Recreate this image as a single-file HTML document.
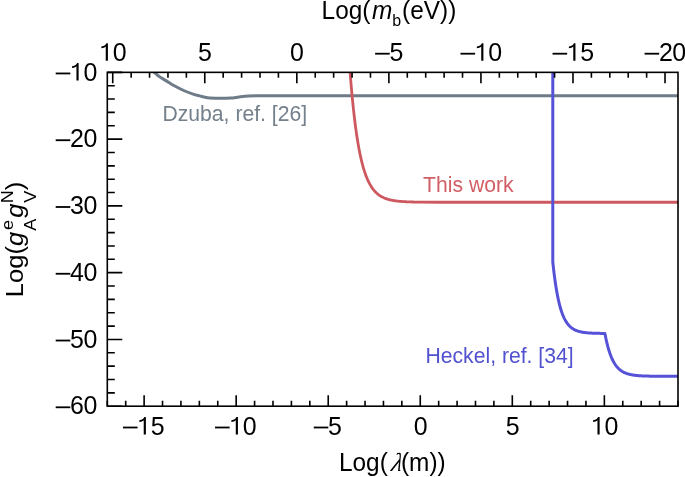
<!DOCTYPE html>
<html><head><meta charset="utf-8"><style>
html,body{margin:0;padding:0;background:#fff;}
body{width:685px;height:477px;overflow:hidden;}
svg{display:block;font-family:"Liberation Sans", sans-serif;will-change:transform;}
</style></head><body>
<svg width="685" height="477" viewBox="0 0 685 477">
<rect width="685" height="477" fill="#fff"/>
<defs><clipPath id="c"><rect x="107.30" y="72.35" width="570.70" height="333.85"/></clipPath><path id="one" d="M525 0L710 0L710 1409L580 1409C540 1290 420 1180 150 1150L150 1010C300 1015 440 1060 525 1140Z"/></defs>
<g clip-path="url(#c)" fill="none" stroke-width="3.00" stroke-linejoin="round">
<path d="M148.00,68.50 C149.02,69.12 152.20,70.85 154.10,72.20 C156.00,73.55 157.35,75.15 159.40,76.60 C161.45,78.05 163.92,79.37 166.40,80.90 C168.88,82.43 171.23,84.12 174.30,85.80 C177.37,87.48 181.67,89.61 184.80,91.00 C187.93,92.39 190.62,93.33 193.10,94.15 C195.58,94.97 197.28,95.31 199.70,95.90 C202.12,96.49 204.32,97.32 207.60,97.70 C210.88,98.08 215.58,98.15 219.40,98.20 C223.22,98.25 227.22,98.20 230.50,98.00 C233.78,97.80 236.13,97.32 239.10,97.00 C242.07,96.68 245.45,96.29 248.30,96.10 C251.15,95.91 252.58,95.89 256.20,95.85 C259.82,95.81 267.70,95.85 270.00,95.85 L682,95.85" stroke="#6e7b88"/>
<path d="M349.80,68.29 L350.30,74.82 L350.80,81.04 L351.30,86.95 L351.80,92.57 L352.30,97.92 L352.80,103.01 L353.30,107.85 L353.80,112.45 L354.30,116.83 L354.80,121.00 L355.30,124.96 L355.80,128.73 L356.30,132.32 L356.80,135.73 L357.30,138.97 L357.80,142.06 L358.30,144.99 L358.80,147.79 L359.30,150.44 L359.80,152.97 L360.30,155.37 L360.80,157.66 L361.30,159.83 L361.80,161.90 L362.30,163.87 L362.80,165.74 L363.30,167.52 L363.80,169.22 L364.30,170.83 L364.80,172.36 L365.30,173.82 L365.80,175.20 L366.30,176.52 L366.80,177.78 L367.30,178.97 L367.80,180.11 L368.30,181.19 L368.80,182.21 L369.30,183.19 L369.80,184.12 L370.30,185.00 L370.80,185.85 L371.30,186.65 L371.80,187.41 L372.30,188.13 L372.80,188.82 L373.30,189.47 L373.80,190.10 L374.30,190.69 L374.80,191.25 L375.30,191.79 L375.80,192.30 L376.30,192.79 L376.80,193.25 L377.30,193.69 L377.80,194.10 L378.30,194.50 L378.80,194.88 L379.30,195.24 L379.80,195.58 L380.30,195.91 L380.80,196.22 L381.30,196.51 L381.80,196.79 L382.30,197.06 L382.80,197.31 L383.30,197.55 L383.80,197.78 L384.30,198.00 L384.80,198.20 L385.30,198.40 L385.80,198.59 L386.30,198.77 L386.80,198.94 L387.30,199.10 L387.80,199.25 L388.30,199.40 L388.80,199.54 L389.30,199.67 L389.80,199.80 L390.30,199.92 L390.80,200.03 L391.30,200.14 L391.80,200.24 L392.30,200.34 L392.80,200.43 L393.30,200.52 L393.80,200.61 L394.30,200.69 L394.80,200.76 L395.30,200.83 L395.80,200.90 L396.30,200.97 L396.80,201.03 L397.30,201.09 L397.80,201.15 L398.30,201.20 L398.80,201.25 L399.30,201.30 L399.80,201.35 L400.30,201.39 L400.80,201.43 L401.30,201.47 L401.80,201.51 L402.30,201.55 L402.80,201.58 L403.30,201.61 L403.80,201.64 L404.30,201.67 L404.80,201.70 L405.30,201.73 L405.80,201.75 L406.30,201.78 L406.80,201.80 L407.30,201.82 L407.80,201.84 L408.30,201.86 L408.80,201.88 L409.30,201.90 L409.80,201.92 L410.30,201.93 L410.80,201.95 L411.30,201.96 L411.80,201.98 L412.30,201.99 L412.80,202.00 L413.30,202.02 L413.80,202.03 L414.30,202.04 L414.80,202.05 L415.30,202.06 L415.80,202.07 L416.30,202.08 L416.80,202.09 L417.30,202.09 L417.80,202.10 L418.30,202.11 L418.80,202.11 L419.30,202.12 L419.80,202.13 L420.30,202.13 L440.30,202.23 L460.30,202.25 L480.30,202.25 L500.30,202.25 L520.30,202.25 L540.30,202.25 L560.30,202.25 L580.30,202.25 L600.30,202.25 L620.30,202.25 L640.30,202.25 L660.30,202.25 L680.30,202.25" stroke="#cd5860" stroke-width="2.8"/>
<path d="M552.80,66.00 L552.80,262.00 L553.30,266.67 L553.80,271.03 L554.30,275.11 L554.80,278.92 L555.30,282.48 L555.80,285.81 L556.30,288.92 L556.80,291.83 L557.30,294.55 L557.80,297.10 L558.30,299.47 L558.80,301.69 L559.30,303.77 L559.80,305.71 L560.30,307.52 L560.80,309.22 L561.30,310.80 L561.80,312.29 L562.30,313.67 L562.80,314.96 L563.30,316.17 L563.80,317.31 L564.30,318.36 L564.80,319.35 L565.30,320.27 L565.80,321.14 L566.30,321.94 L566.80,322.70 L567.30,323.40 L567.80,324.06 L568.30,324.68 L568.80,325.25 L569.30,325.79 L569.80,326.30 L570.30,326.77 L570.80,327.21 L571.30,327.62 L571.80,328.00 L572.30,328.36 L572.80,328.69 L573.30,329.01 L573.80,329.30 L574.30,329.58 L574.80,329.83 L575.30,330.07 L575.80,330.30 L576.30,330.50 L576.80,330.70 L577.30,330.88 L577.80,331.05 L578.30,331.21 L578.80,331.36 L579.30,331.50 L579.80,331.63 L580.30,331.75 L580.80,331.87 L581.30,331.97 L581.80,332.07 L582.30,332.17 L582.80,332.25 L583.30,332.34 L583.80,332.41 L584.30,332.48 L584.80,332.55 L585.30,332.61 L585.80,332.67 L586.30,332.72 L586.80,332.77 L587.30,332.82 L587.80,332.87 L588.30,332.91 L588.80,332.95 L589.30,332.98 L589.80,333.02 L590.30,333.05 L590.80,333.08 L591.30,333.10 L591.80,333.13 L592.30,333.15 L592.80,333.18 L593.30,333.20 L593.80,333.22 L594.30,333.24 L594.80,333.25 L595.30,333.27 L595.80,333.28 L596.30,333.30 L596.80,333.31 L597.30,333.32 L597.80,333.34 L598.30,333.35 L598.80,333.36 L599.30,333.37 L599.80,333.37 L600.30,333.38 L600.80,333.39 L601.30,333.40 L601.80,333.40 L602.30,333.41 L602.80,333.42 L603.30,333.42 L603.80,333.43 L604.30,333.43 L604.80,333.44 L604.90,333.44 L605.40,336.03 L605.90,338.47 L606.40,340.77 L606.90,342.92 L607.40,344.94 L607.90,346.84 L608.40,348.63 L608.90,350.30 L609.40,351.88 L609.90,353.36 L610.40,354.75 L610.90,356.05 L611.40,357.28 L611.90,358.43 L612.40,359.51 L612.90,360.53 L613.40,361.49 L613.90,362.38 L614.40,363.23 L614.90,364.02 L615.40,364.76 L615.90,365.46 L616.40,366.12 L616.90,366.74 L617.40,367.32 L617.90,367.86 L618.40,368.37 L618.90,368.85 L619.40,369.30 L619.90,369.73 L620.40,370.12 L620.90,370.50 L621.40,370.85 L621.90,371.18 L622.40,371.49 L622.90,371.78 L623.40,372.06 L623.90,372.31 L624.40,372.55 L624.90,372.78 L625.40,372.99 L625.90,373.20 L626.40,373.38 L626.90,373.56 L627.40,373.73 L627.90,373.88 L628.40,374.03 L628.90,374.17 L629.40,374.30 L629.90,374.42 L630.40,374.53 L630.90,374.64 L631.40,374.74 L631.90,374.83 L632.40,374.92 L632.90,375.01 L633.40,375.08 L633.90,375.16 L634.40,375.23 L634.90,375.29 L635.40,375.35 L635.90,375.41 L636.40,375.46 L636.90,375.51 L637.40,375.56 L637.90,375.61 L638.40,375.65 L638.90,375.69 L639.40,375.73 L639.90,375.76 L640.40,375.79 L640.90,375.82 L641.40,375.85 L641.90,375.88 L642.40,375.91 L642.90,375.93 L643.40,375.95 L643.90,375.97 L644.40,375.99 L644.90,376.01 L645.40,376.03 L645.90,376.05 L646.40,376.06 L646.90,376.08 L647.40,376.09 L647.90,376.10 L648.40,376.11 L648.90,376.12 L649.40,376.14 L649.90,376.15 L650.40,376.15 L650.90,376.16 L651.40,376.17 L651.90,376.18 L652.40,376.19 L652.90,376.19 L653.40,376.20 L653.90,376.21 L654.40,376.21 L654.90,376.22 L655.40,376.22 L655.90,376.23 L656.40,376.23 L656.90,376.24 L657.40,376.24 L657.90,376.24 L658.40,376.25 L658.90,376.25 L659.40,376.25 L659.90,376.26 L660.40,376.26 L682.40,376.30" stroke="#5552d8"/>
</g>
<rect x="107.30" y="72.35" width="570.70" height="333.85" fill="none" stroke="#000" stroke-width="1.60"/>
<path d="M107.30,406.20v-5.50 M125.71,406.20v-5.50 M144.12,406.20v-11.00 M162.53,406.20v-5.50 M180.94,406.20v-5.50 M199.35,406.20v-5.50 M217.76,406.20v-5.50 M236.17,406.20v-11.00 M254.58,406.20v-5.50 M272.99,406.20v-5.50 M291.40,406.20v-5.50 M309.81,406.20v-5.50 M328.22,406.20v-11.00 M346.63,406.20v-5.50 M365.04,406.20v-5.50 M383.45,406.20v-5.50 M401.85,406.20v-5.50 M420.26,406.20v-11.00 M438.67,406.20v-5.50 M457.08,406.20v-5.50 M475.49,406.20v-5.50 M493.90,406.20v-5.50 M512.31,406.20v-11.00 M530.72,406.20v-5.50 M549.13,406.20v-5.50 M567.54,406.20v-5.50 M585.95,406.20v-5.50 M604.36,406.20v-11.00 M622.77,406.20v-5.50 M641.18,406.20v-5.50 M659.59,406.20v-5.50 M678.00,406.20v-5.50 M112.73,72.35v11.00 M131.14,72.35v5.50 M149.55,72.35v5.50 M167.96,72.35v5.50 M186.37,72.35v5.50 M204.78,72.35v11.00 M223.19,72.35v5.50 M241.60,72.35v5.50 M260.01,72.35v5.50 M278.42,72.35v5.50 M296.83,72.35v11.00 M315.24,72.35v5.50 M333.65,72.35v5.50 M352.06,72.35v5.50 M370.47,72.35v5.50 M388.88,72.35v11.00 M407.29,72.35v5.50 M425.70,72.35v5.50 M444.11,72.35v5.50 M462.52,72.35v5.50 M480.93,72.35v11.00 M499.34,72.35v5.50 M517.75,72.35v5.50 M536.16,72.35v5.50 M554.57,72.35v5.50 M572.98,72.35v11.00 M591.39,72.35v5.50 M609.80,72.35v5.50 M628.21,72.35v5.50 M646.62,72.35v5.50 M665.02,72.35v11.00 M107.30,72.35h15.00 M107.30,85.70h7.50 M107.30,99.06h7.50 M107.30,112.41h7.50 M107.30,125.77h7.50 M107.30,139.12h15.00 M107.30,152.47h7.50 M107.30,165.83h7.50 M107.30,179.18h7.50 M107.30,192.54h7.50 M107.30,205.89h15.00 M107.30,219.24h7.50 M107.30,232.60h7.50 M107.30,245.95h7.50 M107.30,259.31h7.50 M107.30,272.66h15.00 M107.30,286.01h7.50 M107.30,299.37h7.50 M107.30,312.72h7.50 M107.30,326.08h7.50 M107.30,339.43h15.00 M107.30,352.78h7.50 M107.30,366.14h7.50 M107.30,379.49h7.50 M107.30,392.85h7.50 M107.30,406.20h15.00" stroke="#000" stroke-width="1.60" fill="none"/>
<g font-size="24" fill="#000"><rect x="122.97" y="426.60" width="14.60" height="1.80"/><use href="#one" transform="translate(137.57,434.60) scale(0.01172,-0.01248)"/><text transform="translate(157.59,434.60) scale(1.040,1.065)" x="0.00" text-anchor="middle">5</text><rect x="215.02" y="426.60" width="14.60" height="1.80"/><use href="#one" transform="translate(229.62,434.60) scale(0.01172,-0.01248)"/><text transform="translate(249.64,434.60) scale(1.040,1.065)" x="0.00" text-anchor="middle">0</text><rect x="313.74" y="426.60" width="14.60" height="1.80"/><text transform="translate(335.02,434.60) scale(1.040,1.065)" x="0.00" text-anchor="middle">5</text><text transform="translate(420.56,434.60) scale(1.040,1.065)" x="0.00" text-anchor="middle">0</text><text transform="translate(512.61,434.60) scale(1.040,1.065)" x="0.00" text-anchor="middle">5</text><use href="#one" transform="translate(591.31,434.60) scale(0.01172,-0.01248)"/><text transform="translate(611.34,434.60) scale(1.040,1.065)" x="0.00" text-anchor="middle">0</text><use href="#one" transform="translate(99.59,60.80) scale(0.01172,-0.01248)"/><text transform="translate(119.61,60.80) scale(1.040,1.065)" x="0.00" text-anchor="middle">0</text><text transform="translate(204.98,60.80) scale(1.040,1.065)" x="0.00" text-anchor="middle">5</text><text transform="translate(297.03,60.80) scale(1.040,1.065)" x="0.00" text-anchor="middle">0</text><rect x="375.11" y="52.80" width="14.60" height="1.80"/><text transform="translate(396.38,60.80) scale(1.040,1.065)" x="0.00" text-anchor="middle">5</text><rect x="460.48" y="52.80" width="14.60" height="1.80"/><use href="#one" transform="translate(475.08,60.80) scale(0.01172,-0.01248)"/><text transform="translate(495.10,60.80) scale(1.040,1.065)" x="0.00" text-anchor="middle">0</text><rect x="552.53" y="52.80" width="14.60" height="1.80"/><use href="#one" transform="translate(567.13,60.80) scale(0.01172,-0.01248)"/><text transform="translate(587.15,60.80) scale(1.040,1.065)" x="0.00" text-anchor="middle">5</text><rect x="644.58" y="52.80" width="14.60" height="1.80"/><text transform="translate(665.85,60.80) scale(1.040,1.065)" x="0.00" text-anchor="middle">2</text><text transform="translate(679.20,60.80) scale(1.040,1.065)" x="0.00" text-anchor="middle">0</text><rect x="55.70" y="72.55" width="14.60" height="1.80"/><use href="#one" transform="translate(70.30,80.55) scale(0.01172,-0.01248)"/><text transform="translate(90.33,80.55) scale(1.040,1.065)" x="0.00" text-anchor="middle">0</text><rect x="55.70" y="139.32" width="14.60" height="1.80"/><text transform="translate(76.98,147.32) scale(1.040,1.065)" x="0.00" text-anchor="middle">2</text><text transform="translate(90.33,147.32) scale(1.040,1.065)" x="0.00" text-anchor="middle">0</text><rect x="55.70" y="206.09" width="14.60" height="1.80"/><text transform="translate(76.98,214.09) scale(1.040,1.065)" x="0.00" text-anchor="middle">3</text><text transform="translate(90.33,214.09) scale(1.040,1.065)" x="0.00" text-anchor="middle">0</text><rect x="55.70" y="272.86" width="14.60" height="1.80"/><text transform="translate(76.98,280.86) scale(1.040,1.065)" x="0.00" text-anchor="middle">4</text><text transform="translate(90.33,280.86) scale(1.040,1.065)" x="0.00" text-anchor="middle">0</text><rect x="55.70" y="339.63" width="14.60" height="1.80"/><text transform="translate(76.98,347.63) scale(1.040,1.065)" x="0.00" text-anchor="middle">5</text><text transform="translate(90.33,347.63) scale(1.040,1.065)" x="0.00" text-anchor="middle">0</text><rect x="55.70" y="406.40" width="14.60" height="1.80"/><text transform="translate(76.98,414.40) scale(1.040,1.065)" x="0.00" text-anchor="middle">6</text><text transform="translate(90.33,414.40) scale(1.040,1.065)" x="0.00" text-anchor="middle">0</text></g>
<text transform="translate(321.60,18.80) scale(1,1.065)" font-size="24.4" fill="#000">Log(<tspan font-style="italic" dx="1.5">m</tspan><tspan font-size="16" dy="6.8" dx="0.1">b</tspan><tspan dy="-6.8" dx="0.9">(eV))</tspan></text>
<text transform="translate(339.00,471.00) scale(1,1.065)" font-size="24.4" fill="#000">Log(</text>
<text transform="translate(390.40,471.0) scale(1,1.065) skewX(-14)" font-size="24.4" font-family="Liberation Serif" font-style="italic">λ</text>
<text transform="translate(401.00,471.00) scale(1,1.065)" font-size="24.4" fill="#000">(m))</text>
<text transform="translate(22.8,297.2) scale(1,1.065) rotate(-90)" font-size="24"><tspan x="0" y="0">Log(</tspan><tspan x="48.05" y="0" font-style="italic">g</tspan><tspan x="63.2" y="-9.6" font-size="17">e</tspan><tspan x="62.4" y="13.4" font-size="17">A</tspan><tspan x="74.65" y="0" font-style="italic">g</tspan><tspan x="88.3" y="-9.6" font-size="17">N</tspan><tspan x="88.7" y="13.4" font-size="17">V</tspan><tspan x="100.5" y="0">)</tspan></text>
<text transform="translate(162.40,121.20) scale(1,1.065)" font-size="21.2" fill="#74808b">Dzuba, ref. [26]</text>
<text transform="translate(423.00,192.00) scale(1,1.065)" font-size="21.2" fill="#d25f66">This work</text>
<text transform="translate(425.40,363.10) scale(1,1.065)" font-size="21.2" fill="#5251cf">Heckel, ref. [34]</text>
</svg>
</body></html>
